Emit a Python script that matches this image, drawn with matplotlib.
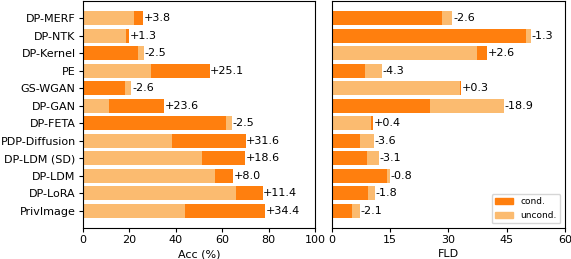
import matplotlib.pyplot as plt
import numpy as np

methods = ["DP-MERF", "DP-NTK", "DP-Kernel", "PE", "GS-WGAN", "DP-GAN", "DP-FETA",
           "PDP-Diffusion", "DP-LDM (SD)", "DP-LDM", "DP-LoRA", "PrivImage"]

acc_uncond = [22.2, 18.6, 26.3, 29.5, 21.0, 11.5, 64.1, 38.5, 51.3, 56.9, 66.0, 44.1]
acc_cond = [26.0, 19.9, 23.8, 54.6, 18.4, 35.1, 61.6, 70.1, 69.9, 64.9, 77.4, 78.5]

fld_uncond = [31.0, 51.3, 37.4, 12.8, 32.9, 44.2, 10.2, 10.8, 12.1, 14.9, 11.1, 7.2]
fld_cond = [28.4, 50.0, 40.0, 8.5, 33.2, 25.3, 10.6, 7.2, 9.0, 14.1, 9.3, 5.1]

dark = "#ff7f0e"
light = "#fbbb70"

plt.rcParams["font.size"] = 8

fig = plt.figure(figsize=(5.71, 2.59), dpi=100)
ax1 = fig.add_axes([0.1448, 0.1197, 0.4069, 0.876])
ax2 = fig.add_axes([0.581, 0.1197, 0.4085, 0.876])


def draw(ax, unc, con):
    y = np.arange(len(methods))
    for i in range(len(methods)):
        # bigger bar first, smaller one on top
        if con[i] >= unc[i]:
            ax.barh(y[i], con[i], height=0.8, color=dark)
            ax.barh(y[i], unc[i], height=0.8, color=light)
        else:
            ax.barh(y[i], unc[i], height=0.8, color=light)
            ax.barh(y[i], con[i], height=0.8, color=dark)
        ax.annotate(f"{con[i] - unc[i]:+.1f}", (max(con[i], unc[i]), y[i]),
                    xytext=(0.5, 0), textcoords="offset points",
                    va="center", ha="left", fontsize=8)
    ax.set_yticks(y)
    ax.invert_yaxis()
    ax.tick_params(length=2.7, pad=2.3)


draw(ax1, acc_uncond, acc_cond)
ax1.set_yticklabels(methods)
ax1.set_xlim(0, 100)
ax1.set_xticks([0, 20, 40, 60, 80, 100])
ax1.set_xlabel("Acc (%)", labelpad=3)

draw(ax2, fld_uncond, fld_cond)
ax2.set_yticklabels([])
ax2.tick_params(axis="y", length=0)
ax2.set_xlim(0, 60)
ax2.set_xticks([0, 15, 30, 45, 60])
ax2.set_xlabel("FLD", labelpad=3)

h1 = plt.Rectangle((0, 0), 1, 1, color=dark)
h2 = plt.Rectangle((0, 0), 1, 1, color=light)
ax2.legend([h1, h2], ["cond.", "uncond."], loc="lower right", fontsize=6.5)

fig.savefig("out.png", dpi=100)
